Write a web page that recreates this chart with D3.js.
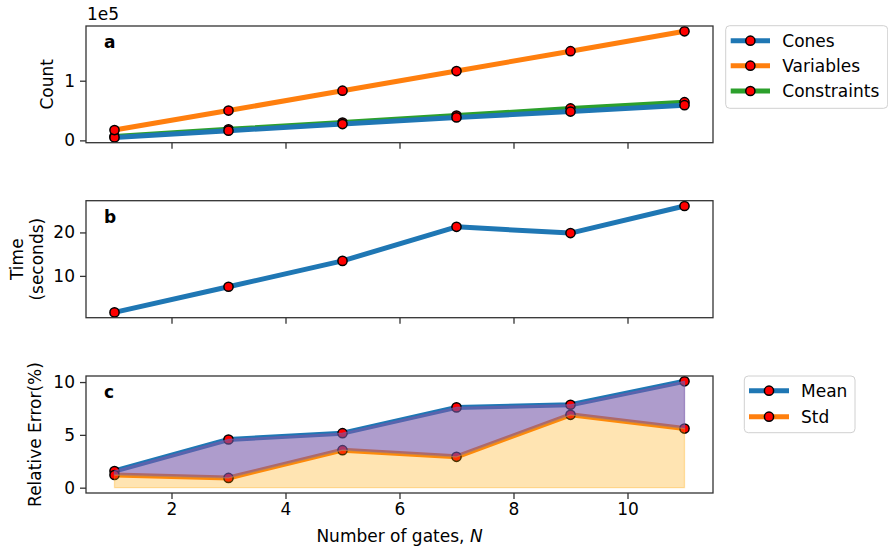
<!DOCTYPE html>
<html><head><meta charset="utf-8">
<script src="https://cdn.jsdelivr.net/npm/d3@7"></script>
<style>body{margin:0;background:#fff}svg{display:block}text{font-family:"DejaVu Sans",sans-serif;fill:#000}</style>
</head><body>
<svg id="c" width="888" height="550"></svg>
<script>
const gates = [1, 3, 5, 7, 9, 11];
const cones = [5000, 16200, 27300, 38500, 48300, 59000];
const variables = [17300, 50000, 83300, 116200, 149500, 182800];
const constraints = [6500, 18500, 30000, 41500, 53500, 64000];
const timeSec = [1.6, 7.5, 13.45, 21.3, 19.85, 26.08];
const errMean = [1.58, 4.56, 5.16, 7.6, 7.85, 10.07];
const errStd = [1.2, 0.92, 3.55, 2.92, 6.9, 5.6];
const xTicks = [2, 4, 6, 8, 10];
const aTicks = [0, 1];
const bTicks = [10, 20];
const cTicks = [0, 5, 10];
const legendA = ["Cones", "Variables", "Constraints"];
const legendC = ["Mean", "Std"];

const C = {blue:"#1f77b4", orange:"#ff7f0e", green:"#2ca02c"};
const FS = 17;
const svg = d3.select("#c");
const L = 86, R = 713;
const x = d3.scaleLinear().domain([0.5, 11.5]).range([L, R]);

const panels = {
  a: {top: 26, bot: 142.7},
  b: {top: 200.7, bot: 317.7},
  c: {top: 376, bot: 493}
};
function pad(lo, hi){ const d = hi - lo; return [lo - 0.05*d, hi + 0.05*d]; }

const aAll = cones.concat(variables, constraints).map(v => v/1e5);
const ya = d3.scaleLinear().domain(pad(d3.min(aAll), d3.max(aAll))).range([panels.a.bot, panels.a.top]);
const yb = d3.scaleLinear().domain(pad(d3.min(timeSec), d3.max(timeSec))).range([panels.b.bot, panels.b.top]);
const yc = d3.scaleLinear().domain(pad(0, d3.max(errMean))).range([panels.c.bot, panels.c.top]);

function frame(p, y, yt, showX){
  const g = svg.append("g");
  const xa = d3.axisBottom(x).tickValues(xTicks).tickSize(6).tickPadding(4)
    .tickFormat(showX ? d3.format("d") : () => "");
  const gx = g.append("g").attr("transform", `translate(0,${p.bot})`).call(xa);
  const ya_ = d3.axisLeft(y).tickValues(yt).tickSize(6).tickPadding(5).tickFormat(d3.format("d"));
  const gy = g.append("g").attr("transform", `translate(${L},0)`).call(ya_);
  [gx, gy].forEach(a => {
    a.select(".domain").remove();
    a.selectAll(".tick line").attr("stroke", "#333").attr("stroke-width", 1.3);
    a.selectAll(".tick text").style("font-size", FS + "px").style("font-family", "DejaVu Sans").attr("fill", "#000");
  });
  return g;
}
function border(p){
  svg.append("rect").attr("x", L).attr("y", p.top).attr("width", R - L).attr("height", p.bot - p.top)
    .attr("fill", "none").attr("stroke", "#333").attr("stroke-width", 1.3);
}
function series(vals, y, color, scale){
  const line = d3.line().x((d, i) => x(gates[i])).y(d => y(d * (scale || 1)));
  svg.append("path").attr("d", line(vals)).attr("fill", "none").attr("stroke", color)
    .attr("stroke-width", 5).attr("stroke-linejoin", "round");
  svg.append("g").selectAll("circle").data(vals).join("circle")
    .attr("cx", (d, i) => x(gates[i])).attr("cy", d => y(d * (scale || 1))).attr("r", 4.6)
    .attr("fill", "#ff0000").attr("stroke", "#000").attr("stroke-width", 1.5);
}
function panelLabel(p, t){
  svg.append("text").attr("x", 104).attr("y", p.top + 22.3).attr("font-weight", "bold")
    .style("font-size", FS + "px").text(t);
}
function legend(x0, y0, w, h, items, colors, rowY, lineX0, lineX1, textX){
  svg.append("rect").attr("x", x0).attr("y", y0).attr("width", w).attr("height", h).attr("rx", 4)
    .attr("fill", "#fff").attr("fill-opacity", 0.8).attr("stroke", "#d0d0d0").attr("stroke-width", 1);
  items.forEach((t, i) => {
    const yy = rowY[i];
    svg.append("line").attr("x1", lineX0).attr("x2", lineX1).attr("y1", yy).attr("y2", yy)
      .attr("stroke", colors[i]).attr("stroke-width", 5);
    svg.append("circle").attr("cx", (lineX0 + lineX1) / 2).attr("cy", yy).attr("r", 4.6)
      .attr("fill", "#ff0000").attr("stroke", "#000").attr("stroke-width", 1.5);
    svg.append("text").attr("x", textX).attr("y", yy).attr("dy", "0.36em").style("font-size", FS + "px").text(t);
  });
}

// Panel a
frame(panels.a, ya, aTicks, false);
series(constraints, ya, C.green, 1e-5);
series(cones, ya, C.blue, 1e-5);
series(variables, ya, C.orange, 1e-5);
border(panels.a);
panelLabel(panels.a, "a");
svg.append("text").attr("x", 87).attr("y", 20).style("font-size", FS + "px").text("1e5");
svg.append("text").attr("transform", `translate(53,${(panels.a.top + panels.a.bot) / 2}) rotate(-90)`)
  .attr("text-anchor", "middle").style("font-size", FS + "px").text("Count");
legend(725.7, 25.7, 162, 82.6, legendA, [C.blue, C.orange, C.green], [40.7, 65.7, 91], 730.7, 770, 782.3);

// Panel b
frame(panels.b, yb, bTicks, false);
series(timeSec, yb, C.blue);
border(panels.b);
panelLabel(panels.b, "b");
const bc = (panels.b.top + panels.b.bot) / 2;
svg.append("text").attr("transform", `translate(22.5,${bc}) rotate(-90)`).attr("text-anchor", "middle")
  .style("font-size", FS + "px").text("Time");
svg.append("text").attr("transform", `translate(42.5,${bc}) rotate(-90)`).attr("text-anchor", "middle")
  .style("font-size", FS + "px").text("(seconds)");

// Panel c
frame(panels.c, yc, cTicks, true);
series(errMean, yc, C.blue);
series(errStd, yc, C.orange);
const areaPS = d3.area().x((d, i) => x(gates[i])).y0((d, i) => yc(errStd[i])).y1(d => yc(d));
svg.append("path").attr("d", areaPS(errMean)).attr("fill", "rgb(120,90,170)").attr("fill-opacity", 0.6)
  .attr("stroke", "rgb(120,90,170)").attr("stroke-opacity", 0.6).attr("stroke-width", 1.3);
const areaS = d3.area().x((d, i) => x(gates[i])).y0(yc(0)).y1(d => yc(d));
svg.append("path").attr("d", areaS(errStd)).attr("fill", "#ffa500").attr("fill-opacity", 0.3)
  .attr("stroke", "#ffa500").attr("stroke-opacity", 0.3).attr("stroke-width", 1.3);
border(panels.c);
panelLabel(panels.c, "c");
svg.append("text").attr("transform", `translate(40.5,${(panels.c.top + panels.c.bot) / 2}) rotate(-90)`)
  .attr("text-anchor", "middle").style("font-size", FS + "px").text("Relative Error(%)");
const xl = svg.append("text").attr("x", (L + R) / 2).attr("y", 541.7).attr("text-anchor", "middle")
  .style("font-size", FS + "px");
xl.append("tspan").text("Number of gates, ");
xl.append("tspan").attr("font-style", "italic").text("N");
legend(744.3, 376, 110.7, 56.7, legendC, [C.blue, C.orange], [390.7, 416.7], 749, 789, 801);
</script>
</body></html>
